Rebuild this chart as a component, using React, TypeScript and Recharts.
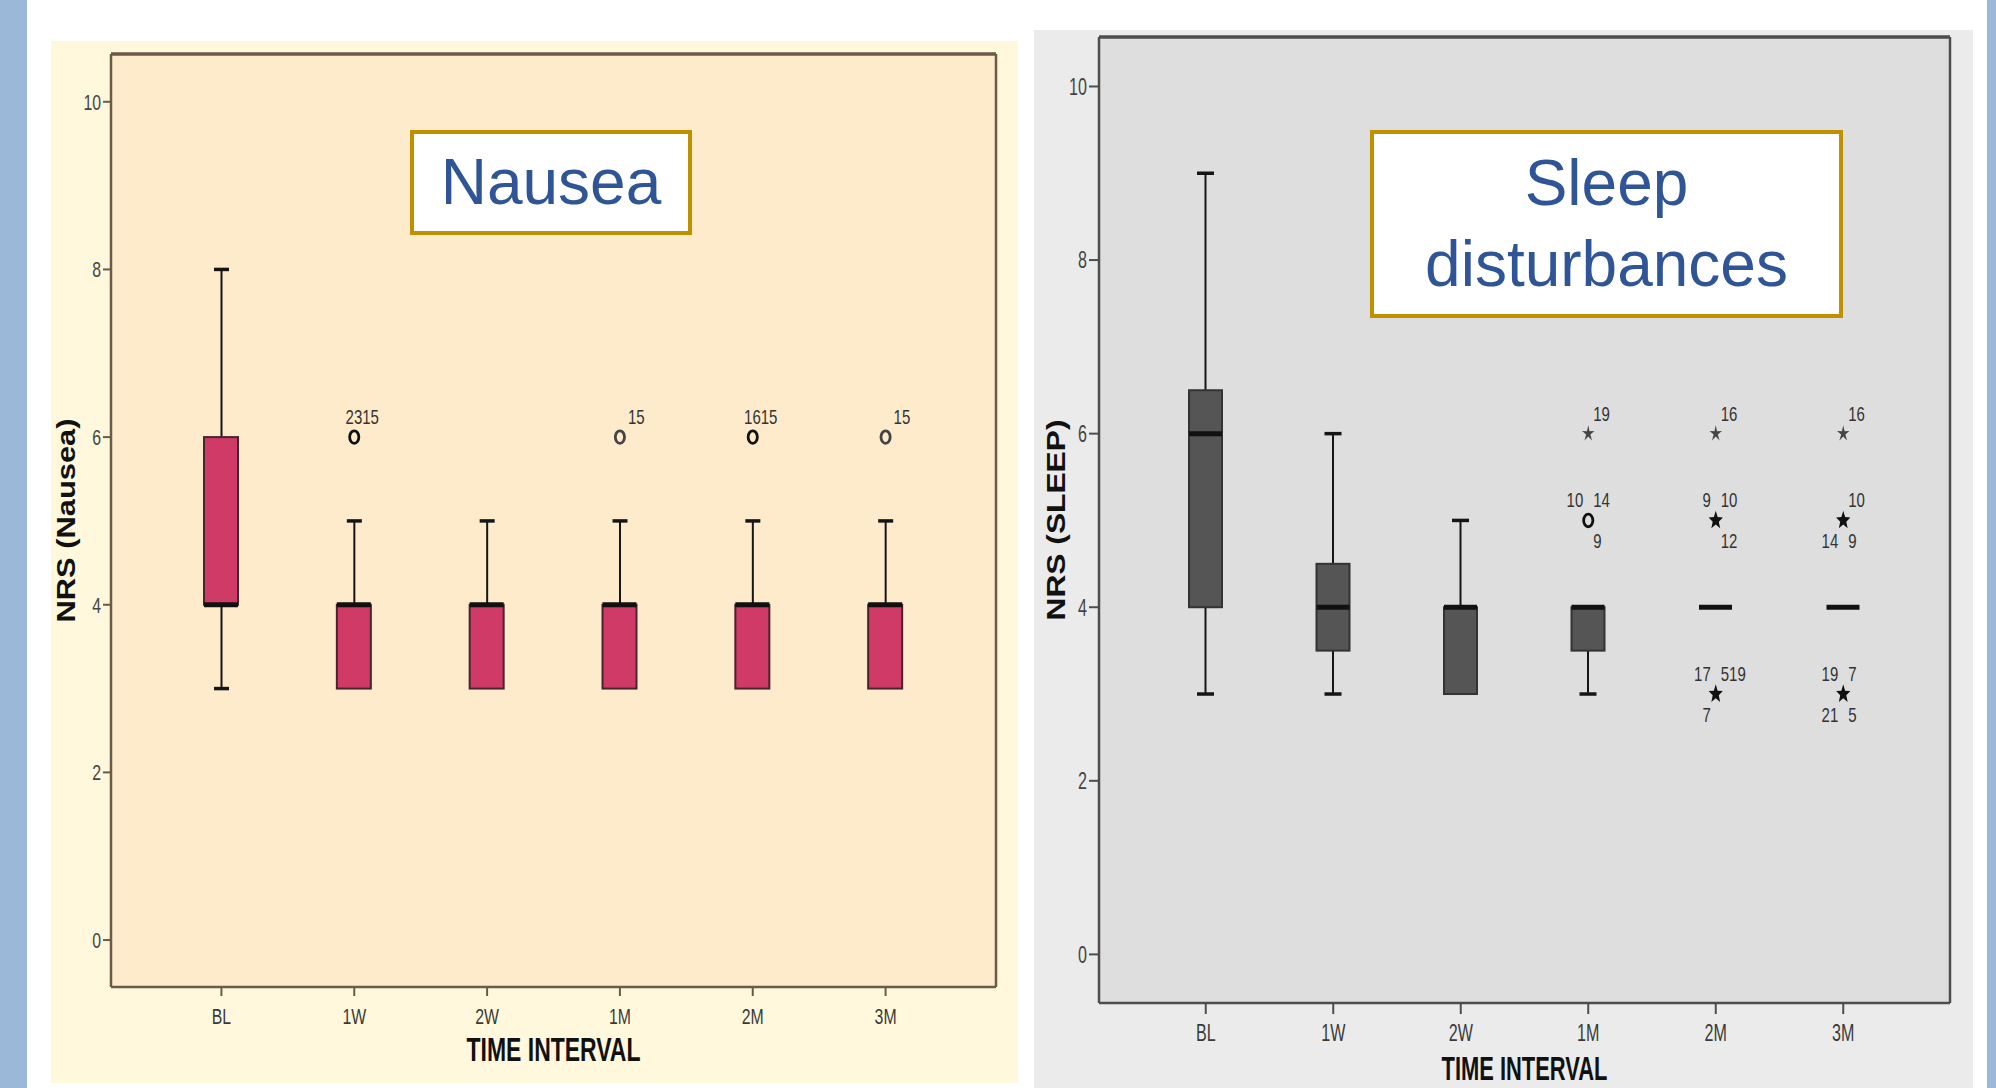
import React from "react";
import { ComposedChart, Bar, Line, XAxis, YAxis, CartesianGrid } from "recharts";

const categories = ["BL", "1W", "2W", "1M", "2M", "3M"];
const yTicks = [0, 2, 4, 6, 8, 10];
const yDomain = [-0.56, 10.57];

// Nausea NRS per time interval
const nauseaMin = [3, 3, 3, 3, 3, 3];
const nauseaQ1 = [4, 3, 3, 3, 3, 3];
const nauseaMedian = [4, 4, 4, 4, 4, 4];
const nauseaQ3 = [6, 4, 4, 4, 4, 4];
const nauseaMax = [8, 5, 5, 5, 5, 5];
const nauseaOutliers = [
  { cat: "1W", value: 6, mark: "circle", above: ["23", "15"], below: ["", ""] },
  { cat: "1M", value: 6, mark: "circle", above: ["", "15"], below: ["", ""] },
  { cat: "2M", value: 6, mark: "circle", above: ["16", "15"], below: ["", ""] },
  { cat: "3M", value: 6, mark: "circle", above: ["", "15"], below: ["", ""] },
];

// Sleep NRS per time interval
const sleepMin = [3, 3, 3, 3, 4, 4];
const sleepQ1 = [4, 3.5, 3, 3.5, 4, 4];
const sleepMedian = [6, 4, 4, 4, 4, 4];
const sleepQ3 = [6.5, 4.5, 4, 4, 4, 4];
const sleepMax = [9, 6, 5, 4, 4, 4];
const sleepOutliers = [
  { cat: "1M", value: 6, mark: "star", above: ["", "19"], below: ["", ""] },
  { cat: "1M", value: 5, mark: "circle", above: ["10", "14"], below: ["", "9"] },
  { cat: "2M", value: 6, mark: "star", above: ["", "16"], below: ["", ""] },
  { cat: "2M", value: 5, mark: "star", above: ["9", "10"], below: ["", "12"] },
  { cat: "2M", value: 3, mark: "star", above: ["17", "519"], below: ["7", ""] },
  { cat: "3M", value: 6, mark: "star", above: ["", "16"], below: ["", ""] },
  { cat: "3M", value: 5, mark: "star", above: ["", "10"], below: ["14", "9"] },
  { cat: "3M", value: 3, mark: "star", above: ["19", "7"], below: ["21", "5"] },
];

const FONT = "'Liberation Sans', Arial, sans-serif";

function buildRows(mins, q1s, meds, q3s, maxs, outliers) {
  const rows = categories.map((cat, i) => ({
    cat,
    min: mins[i],
    q1: q1s[i],
    med: meds[i],
    q3: q3s[i],
    max: maxs[i],
  }));
  outliers.forEach((o) => {
    const r = rows.find((row) => row.cat === o.cat);
    r["o" + o.value] = o.value;
    r["info" + o.value] = o;
  });
  return rows;
}

const nauseaStyle = {
  width: 967,
  height: 1042,
  margin: { top: 12, right: 21, left: 0, bottom: 0 },
  yAxisWidth: 60,
  xAxisHeight: 96,
  padding: 44,
  plotBg: "#feebcb",
  frame: "#6b5a48",
  boxFill: "#cf3a66",
  boxStroke: "#4a2330",
  boxWidth: 34,
  capWidth: 15,
  xTickSize: 9,
  xTickMargin: 12,
  yTickSize: 8,
  tickFont: 22,
  tickScale: 0.72,
  labelLeft: 8,
  labelRight: 8,
  xTitleDy: 74,
  xTitleLen: 174,
  xTitleFont: 34,
  yTitle: "NRS (Nausea)",
  yTitleDx: 15,
  yTitleLen: 204,
};

const sleepStyle = {
  width: 939,
  height: 1058,
  margin: { top: 6, right: 22, left: 0, bottom: 0 },
  yAxisWidth: 65,
  xAxisHeight: 85,
  padding: 43,
  plotBg: "#dedede",
  frame: "#4d4d4d",
  boxFill: "#555555",
  boxStroke: "#333333",
  boxWidth: 33,
  capWidth: 17,
  xTickSize: 11,
  xTickMargin: 10,
  yTickSize: 10,
  tickFont: 23,
  tickScale: 0.7,
  labelLeft: -5,
  labelRight: 5,
  xTitleDy: 77,
  xTitleLen: 166,
  xTitleFont: 33,
  yTitle: "NRS (SLEEP)",
  yTitleDx: 22,
  yTitleLen: 201,
};

function Whisker(props) {
  const { x, y, width, height, payload } = props;
  const top = Math.min(y, y + height);
  const bot = Math.max(y, y + height);
  const cx = x + width / 2;
  return (
    <g>
      <line x1={cx} x2={cx} y1={top} y2={bot} stroke="#151515" strokeWidth={2} />
      {payload.max > payload.q3 && (
        <line x1={x} x2={x + width} y1={top} y2={top} stroke="#151515" strokeWidth={3.5} />
      )}
      {payload.min < payload.q1 && (
        <line x1={x} x2={x + width} y1={bot} y2={bot} stroke="#151515" strokeWidth={3.5} />
      )}
    </g>
  );
}

function BoxRect(props) {
  const { x, y, width, height, st } = props;
  if (Math.abs(height) < 0.5) return <g />;
  const top = Math.min(y, y + height);
  return (
    <rect
      x={x}
      y={top}
      width={width}
      height={Math.abs(height)}
      fill={st.boxFill}
      stroke={st.boxStroke}
      strokeWidth={2}
    />
  );
}

function MedianLine(props) {
  const { x, y, width } = props;
  return <line x1={x} x2={x + width} y1={y} y2={y} stroke="#111" strokeWidth={5} />;
}

function starPoints(cx, cy, R, r, sy) {
  const pts = [];
  for (let k = 0; k < 10; k++) {
    const a = ((-90 + k * 36) * Math.PI) / 180;
    const rad = k % 2 === 0 ? R : r;
    pts.push(`${cx + rad * Math.cos(a)},${cy + rad * Math.sin(a) * sy}`);
  }
  return pts.join(" ");
}

function OutlierLabel({ x, y, text, anchor }) {
  if (!text) return null;
  return (
    <g transform={`translate(${x},${y}) scale(0.75,1)`}>
      <text textAnchor={anchor} fontSize={20} fill="#333" fontFamily={FONT}>
        {text}
      </text>
    </g>
  );
}

function renderOutlier(p, v, st) {
  const info = p.payload ? p.payload["info" + v] : null;
  if (!info || p.cy == null || isNaN(p.cy)) return <g key={"e" + v + "-" + p.index} />;
  const { cx, cy } = p;
  const count = [...info.above, ...info.below].filter((t) => t).length;
  const bold = count > 1;
  const ink = bold ? "#111" : "#444";
  return (
    <g key={"o" + v + "-" + p.index}>
      {info.mark === "circle" ? (
        <ellipse cx={cx} cy={cy} rx={4.6} ry={6.3} fill="none" stroke={ink} strokeWidth={2.8} />
      ) : (
        <polygon
          points={starPoints(cx, cy, bold ? 7.5 : 6.5, bold ? 3.2 : 2.2, 1.3)}
          fill={ink}
        />
      )}
      <OutlierLabel x={cx + st.labelLeft} y={cy - 13} text={info.above[0]} anchor="end" />
      <OutlierLabel x={cx + st.labelRight} y={cy - 13} text={info.above[1]} anchor="start" />
      <OutlierLabel x={cx + st.labelLeft} y={cy + 28} text={info.below[0]} anchor="end" />
      <OutlierLabel x={cx + st.labelRight} y={cy + 28} text={info.below[1]} anchor="start" />
    </g>
  );
}

function XTick(props) {
  const { x, y, payload, st } = props;
  return (
    <g transform={`translate(${x},${y}) scale(${st.tickScale},1)`}>
      <text textAnchor="middle" dy="0.72em" fontSize={st.tickFont} fill="#3a3a3a" fontFamily={FONT}>
        {payload.value}
      </text>
    </g>
  );
}

function YTick(props) {
  const { x, y, payload, st } = props;
  return (
    <g transform={`translate(${x},${y}) scale(${st.tickScale},1)`}>
      <text textAnchor="end" dy="0.36em" fontSize={st.tickFont} fill="#444" fontFamily={FONT}>
        {payload.value}
      </text>
    </g>
  );
}

function XTitle(props) {
  const { viewBox, st } = props;
  if (!viewBox) return null;
  return (
    <text
      x={viewBox.x + viewBox.width / 2}
      y={viewBox.y + st.xTitleDy}
      textAnchor="middle"
      fontSize={st.xTitleFont}
      fontWeight="bold"
      fill="#111"
      fontFamily={FONT}
      textLength={st.xTitleLen}
      lengthAdjust="spacingAndGlyphs"
    >
      TIME INTERVAL
    </text>
  );
}

function YTitle(props) {
  const { viewBox, st } = props;
  if (!viewBox) return null;
  const cx = viewBox.x + st.yTitleDx;
  const cy = viewBox.y + viewBox.height / 2;
  return (
    <text
      x={cx}
      y={cy}
      transform={`rotate(-90, ${cx}, ${cy})`}
      textAnchor="middle"
      dominantBaseline="central"
      fontSize={26}
      fontWeight="bold"
      fill="#111"
      fontFamily={FONT}
      textLength={st.yTitleLen}
      lengthAdjust="spacingAndGlyphs"
    >
      {st.yTitle}
    </text>
  );
}

function BoxChart({ rows, outliers, st }) {
  const levels = Array.from(new Set(outliers.map((o) => o.value)));
  const pad = { left: st.padding, right: st.padding };
  return (
    <ComposedChart width={st.width} height={st.height} data={rows} margin={st.margin}>
      <CartesianGrid fill={st.plotBg} horizontal={false} vertical={false} stroke="none" />
      <XAxis
        dataKey="cat"
        height={st.xAxisHeight}
        padding={pad}
        interval={0}
        tickSize={st.xTickSize}
        tickMargin={st.xTickMargin}
        tickLine={{ stroke: st.frame, strokeWidth: 2 }}
        axisLine={{ stroke: st.frame, strokeWidth: 2.5 }}
        tick={<XTick st={st} />}
        label={<XTitle st={st} />}
      />
      <XAxis xAxisId="box" dataKey="cat" padding={pad} hide />
      <XAxis xAxisId="med" dataKey="cat" padding={pad} hide />
      <XAxis
        xAxisId="top"
        orientation="top"
        dataKey="cat"
        height={1}
        tick={false}
        tickLine={false}
        axisLine={{ stroke: st.frame, strokeWidth: 3.5 }}
      />
      <YAxis
        type="number"
        domain={yDomain}
        ticks={yTicks}
        allowDataOverflow
        width={st.yAxisWidth}
        tickSize={st.yTickSize}
        tickMargin={2}
        tickLine={{ stroke: st.frame, strokeWidth: 2 }}
        axisLine={{ stroke: st.frame, strokeWidth: 2.5 }}
        tick={<YTick st={st} />}
        label={<YTitle st={st} />}
      />
      <YAxis
        yAxisId="r"
        orientation="right"
        type="number"
        domain={yDomain}
        allowDataOverflow
        width={1}
        tick={false}
        tickLine={false}
        axisLine={{ stroke: st.frame, strokeWidth: 2.5 }}
      />
      <Bar
        dataKey={(d) => [d.min, d.max]}
        barSize={st.capWidth}
        shape={(p) => <Whisker {...p} st={st} />}
        isAnimationActive={false}
      />
      <Bar
        xAxisId="box"
        dataKey={(d) => [d.q1, d.q3]}
        barSize={st.boxWidth}
        shape={(p) => <BoxRect {...p} st={st} />}
        isAnimationActive={false}
      />
      <Bar
        xAxisId="med"
        dataKey={(d) => [d.med, d.med]}
        barSize={st.boxWidth}
        shape={(p) => <MedianLine {...p} />}
        isAnimationActive={false}
      />
      {levels.map((v) => (
        <Line
          key={v}
          dataKey={"o" + v}
          stroke="none"
          dot={(p) => renderOutlier(p, v, st)}
          activeDot={false}
          isAnimationActive={false}
        />
      ))}
    </ComposedChart>
  );
}

const titleBox = {
  position: "absolute",
  boxSizing: "border-box",
  border: "4px solid #bf9000",
  background: "#ffffff",
  display: "flex",
  alignItems: "center",
  justifyContent: "center",
  textAlign: "center",
  fontFamily: FONT,
  fontSize: 64,
  lineHeight: "81px",
  color: "#2f5597",
} as const;

export default function App() {
  const nauseaRows = buildRows(nauseaMin, nauseaQ1, nauseaMedian, nauseaQ3, nauseaMax, nauseaOutliers);
  const sleepRows = buildRows(sleepMin, sleepQ1, sleepMedian, sleepQ3, sleepMax, sleepOutliers);
  return (
    <div
      style={{
        position: "absolute",
        left: 0,
        top: 0,
        width: 1996,
        height: 1088,
        background: "#ffffff",
        overflow: "hidden",
      }}
    >
      <div style={{ position: "absolute", left: 0, top: 0, width: 27, height: 1088, background: "#9bb8d8" }} />
      <div style={{ position: "absolute", left: 1987, top: 0, width: 9, height: 1088, background: "#9bb8d8" }} />

      <div style={{ position: "absolute", left: 51, top: 41, width: 967, height: 1042, background: "#fff8dc" }}>
        <BoxChart rows={nauseaRows} outliers={nauseaOutliers} st={nauseaStyle} />
      </div>
      <div style={{ position: "absolute", left: 1034, top: 30, width: 939, height: 1058, background: "#ebebeb" }}>
        <BoxChart rows={sleepRows} outliers={sleepOutliers} st={sleepStyle} />
      </div>

      <div style={{ ...titleBox, left: 410, top: 130, width: 282, height: 105 }}>Nausea</div>
      <div style={{ ...titleBox, left: 1370, top: 130, width: 473, height: 188 }}>
        Sleep
        <br />
        disturbances
      </div>
    </div>
  );
}
